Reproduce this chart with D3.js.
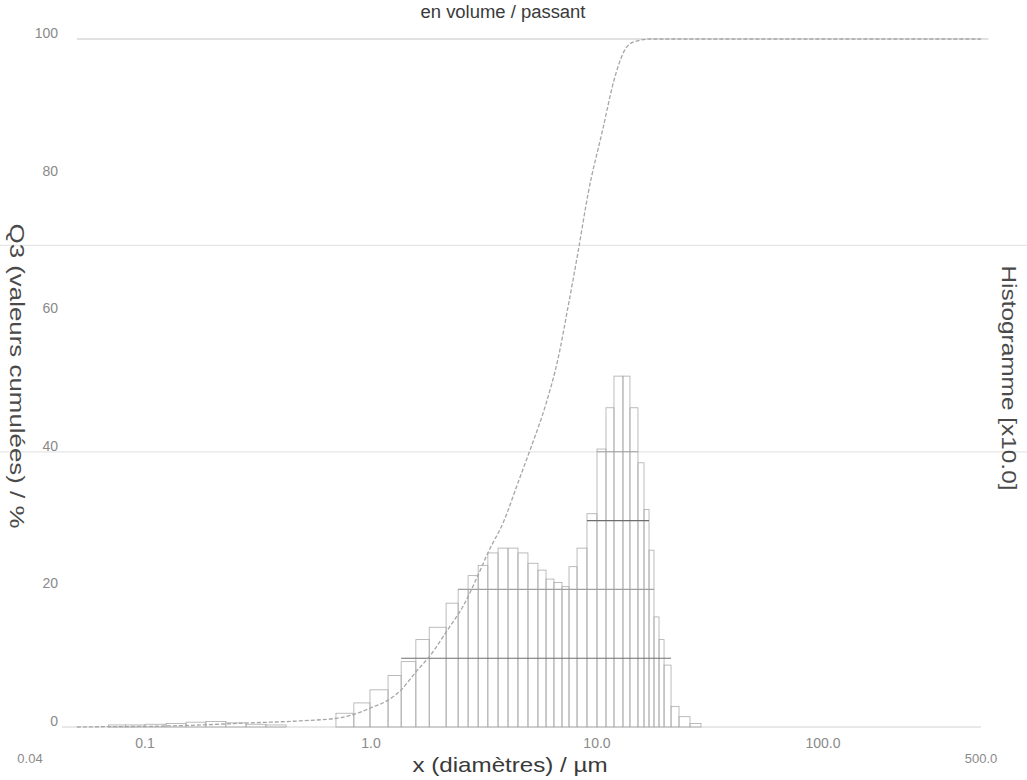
<!DOCTYPE html>
<html>
<head>
<meta charset="utf-8">
<script src="https://cdn.jsdelivr.net/npm/d3@7"></script>
<style>
  body { margin: 0; background: #fff; }
  text { font-family: "Liberation Sans", Arial, sans-serif; }
</style>
</head>
<body>
<div id="chart"></div>
<script>
// class limits (µm) and histogram heights
const binEdges = [0.70, 0.84, 0.99, 1.19, 1.36, 1.58, 1.81, 2.15, 2.43, 2.69, 2.98, 3.29, 3.65, 4.04,
  4.47, 4.95, 5.48, 5.95, 6.45, 7.0, 7.52, 8.16, 9.03, 10.0, 10.96, 11.89, 13.03, 13.99, 15.18,
  16.14, 16.99, 17.87, 18.81, 19.8, 21.26, 23.06, 25.79, 28.85];
const binHeights = [2, 3.5, 5.4, 7.5, 9.5, 12.7, 14.5, 18, 20, 22, 23.5, 25.3, 26, 26, 25.3, 23.8,
  22.8, 21.5, 21, 20.4, 23.3, 26, 31, 40.4, 46.4, 51, 51, 46.4, 38.4, 31.6, 25.7, 16, 12.7, 9, 3,
  1.5, 0.5];
const fineEdges = [0.069, 0.082, 0.10, 0.124, 0.152, 0.186, 0.228, 0.28, 0.343, 0.421];
const fineHeights = [0.3, 0.3, 0.4, 0.5, 0.7, 0.8, 0.6, 0.4, 0.3];

// cumulative curve Q3
const cumSizes = [0.05, 0.07, 0.106, 0.177, 0.294, 0.49, 0.714, 0.816, 1.0, 1.19, 1.36, 1.58, 1.84,
  2.15, 2.58, 2.97, 3.29, 3.88, 4.47, 5.10, 5.95, 6.72, 7.44, 8.24, 9.13, 10.63, 11.89, 13.17,
  14.58, 17.34, 500];
const cumValues = [0, 0.05, 0.1, 0.3, 0.6, 0.9, 1.3, 1.7, 2.8, 3.9, 5.4, 8, 10.5, 13.8, 17.8, 22,
  25.3, 30, 35.5, 40.6, 47, 53.5, 61, 69, 77.5, 87, 94, 98.2, 99.6, 100, 100];

const yTicks = [0, 20, 40, 60, 80, 100];
const xTicks = [0.1, 1, 10, 100];
const xTickLabels = ["0.1", "1.0", "10.0", "100.0"];
const xEnds = [0.04, 500];
const xEndLabels = ["0.04", "500.0"];
const levelLines = [10, 20, 30, 40];
const wideLines = [40, 70];

const WIDTH = 1027,
  HEIGHT = 780,
  LABEL = "#8a8a8a",
  TITLE = "#3a3a3a";

const x = d3.scaleLog().domain([0.04, 500]).range([55, 981]),
  y = d3.scaleLinear().domain([0, 100]).range([727, 39]);

const svg = d3.select("#chart").append("svg")
  .attr("width", WIDTH)
  .attr("height", HEIGHT);

function toBars(edges, heights) {
  return heights.map((h, i) => ({ x0: edges[i], x1: edges[i + 1], h: h }));
}
const bars = toBars(binEdges, binHeights),
  fine = toBars(fineEdges, fineHeights);

// faint full-width lines
svg.append("g")
  .selectAll("line")
  .data(wideLines)
  .enter()
  .append("line")
  .attr("x1", 0).attr("x2", WIDTH)
  .attr("y1", d => y(d)).attr("y2", d => y(d))
  .attr("stroke", "#e6e6e6")
  .attr("stroke-width", 1.2);

// 100 line
svg.append("line")
  .attr("x1", x(0.05)).attr("x2", x(540))
  .attr("y1", y(100)).attr("y2", y(100))
  .attr("stroke", "#c4c4c4")
  .attr("stroke-width", 1.2);

// baseline
svg.append("line")
  .attr("x1", x(0.043)).attr("x2", x(500))
  .attr("y1", y(0)).attr("y2", y(0))
  .attr("stroke", "#d0d0d0")
  .attr("stroke-width", 1);

// histogram
svg.append("g")
  .selectAll("rect")
  .data(bars.concat(fine))
  .enter()
  .append("rect")
  .attr("x", d => x(d.x0))
  .attr("width", d => x(d.x1) - x(d.x0))
  .attr("y", d => y(d.h))
  .attr("height", d => y(0) - y(d.h))
  .attr("fill", "none")
  .attr("stroke", "#ababab")
  .attr("stroke-width", 0.8);

// level lines drawn through the bars that reach them
svg.append("g")
  .selectAll("line")
  .data(levelLines)
  .enter()
  .append("line")
  .each(function (lv) {
    const hit = bars.filter(b => b.h >= lv - 1.2);
    d3.select(this)
      .attr("x1", x(d3.min(hit, b => b.x0)))
      .attr("x2", x(d3.max(hit, b => b.x1)))
      .attr("y1", y(lv)).attr("y2", y(lv));
  })
  .attr("stroke", d => (d === 10 || d === 30) ? "#6e6e6e" : "#a0a0a0")
  .attr("stroke-width", 1.1);

// cumulative curve
const line = d3.line()
  .x((d, i) => x(cumSizes[i]))
  .y(d => y(d))
  .curve(d3.curveMonotoneX);

svg.append("path")
  .datum(cumValues)
  .attr("d", line)
  .attr("fill", "none")
  .attr("stroke", "#a6a6a6")
  .attr("stroke-width", 1.3)
  .attr("stroke-dasharray", "4 2");

// y tick labels
svg.append("g")
  .selectAll("text")
  .data(yTicks)
  .enter()
  .append("text")
  .attr("x", 58)
  .attr("y", d => y(d) - 1)
  .attr("text-anchor", "end")
  .attr("font-size", 14)
  .attr("fill", LABEL)
  .text(d => d);

// x tick labels
svg.append("g")
  .selectAll("text")
  .data(xTicks)
  .enter()
  .append("text")
  .attr("x", d => x(d))
  .attr("y", 748)
  .attr("text-anchor", "middle")
  .attr("font-size", 14)
  .attr("fill", LABEL)
  .text((d, i) => xTickLabels[i]);

svg.append("g")
  .selectAll("text")
  .data(xEnds)
  .enter()
  .append("text")
  .attr("x", (d, i) => i === 0 ? x(d) - 25 : x(d))
  .attr("y", 763)
  .attr("text-anchor", "middle")
  .attr("font-size", 13)
  .attr("fill", LABEL)
  .text((d, i) => xEndLabels[i]);

// titles
svg.append("text")
  .attr("x", 503).attr("y", 18)
  .attr("text-anchor", "middle")
  .attr("font-size", 18)
  .attr("textLength", 165)
  .attr("lengthAdjust", "spacingAndGlyphs")
  .attr("fill", TITLE)
  .text("en volume / passant");

svg.append("text")
  .attr("x", 510).attr("y", 772)
  .attr("text-anchor", "middle")
  .attr("font-size", 21)
  .attr("textLength", 195)
  .attr("lengthAdjust", "spacingAndGlyphs")
  .attr("fill", TITLE)
  .text("x (diamètres) / µm");

svg.append("text")
  .attr("transform", "translate(10,376) rotate(90)")
  .attr("text-anchor", "middle")
  .attr("font-size", 21)
  .attr("textLength", 305)
  .attr("lengthAdjust", "spacingAndGlyphs")
  .attr("fill", "#4a4a4a")
  .text("Q3 (valeurs cumulées) / %");

svg.append("text")
  .attr("transform", "translate(1002,378) rotate(90)")
  .attr("text-anchor", "middle")
  .attr("font-size", 21)
  .attr("textLength", 225)
  .attr("lengthAdjust", "spacingAndGlyphs")
  .attr("fill", "#4a4a4a")
  .text("Histogramme [x10.0]");
</script>
</body>
</html>
